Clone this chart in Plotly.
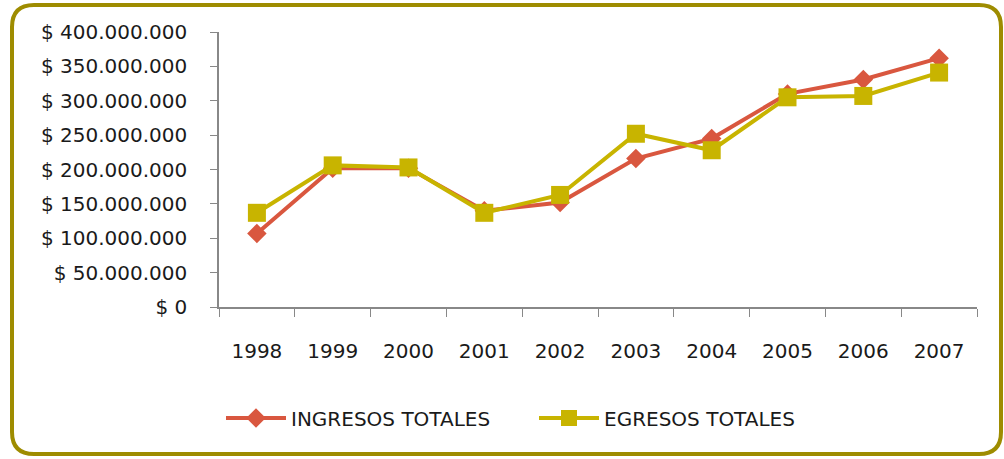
import plotly.graph_objects as go

years = ["1998", "1999", "2000", "2001", "2002", "2003", "2004", "2005", "2006", "2007"]
ingresos = [107e6, 202e6, 202e6, 140e6, 152e6, 216e6, 245e6, 310e6, 331e6, 362e6]
egresos = [137e6, 206e6, 203e6, 137e6, 163e6, 252e6, 228e6, 305e6, 307e6, 341e6]
ytick_vals = [0, 50e6, 100e6, 150e6, 200e6, 250e6, 300e6, 350e6, 400e6]
ytick_text = ["$ 0", "$ 50.000.000", "$ 100.000.000", "$ 150.000.000", "$ 200.000.000",
              "$ 250.000.000", "$ 300.000.000", "$ 350.000.000", "$ 400.000.000"]

W, H = 1004, 459
L, R, T, B = 219, 27, 32, 152
pw, ph = W - L - R, H - T - B

def px(x):
    return (x - L) / pw

def py(y):
    return (H - B - y) / ph

RED = "#D9573F"
YEL = "#C8B400"
FONT = "DejaVu Sans"
TXT = "#1a1a1a"

fig = go.Figure()
fig.add_trace(go.Scatter(x=years, y=ingresos, name="INGRESOS TOTALES", mode="lines+markers",
                         line=dict(color=RED, width=4),
                         marker=dict(symbol="diamond", size=15, color=RED)))
fig.add_trace(go.Scatter(x=years, y=egresos, name="EGRESOS TOTALES", mode="lines+markers",
                         line=dict(color=YEL, width=4),
                         marker=dict(symbol="square", size=18, color=YEL)))

# rounded border
x0, x1, y0, y1, r = 12, 1001, 5, 454, 22
path = (f"M {px(x0+r)},{py(y0)} L {px(x1-r)},{py(y0)} Q {px(x1)},{py(y0)} {px(x1)},{py(y0+r)} "
        f"L {px(x1)},{py(y1-r)} Q {px(x1)},{py(y1)} {px(x1-r)},{py(y1)} "
        f"L {px(x0+r)},{py(y1)} Q {px(x0)},{py(y1)} {px(x0)},{py(y1-r)} "
        f"L {px(x0)},{py(y0+r)} Q {px(x0)},{py(y0)} {px(x0+r)},{py(y0)} Z")
fig.add_shape(type="path", path=path, xref="paper", yref="paper",
              line=dict(color="#9E8C00", width=4), layer="below")

fig.update_layout(
    width=W, height=H,
    margin=dict(l=L, r=R, t=T, b=B, autoexpand=False),
    paper_bgcolor="white", plot_bgcolor="white",
    font=dict(family=FONT, size=20, color=TXT),
    showlegend=True,
    legend=dict(orientation="h", x=px(221), y=py(418), xanchor="left", yanchor="middle",
                font=dict(family=FONT, size=20, color=TXT),
                itemwidth=60, entrywidth=238, tracegroupgap=0),
    xaxis=dict(type="category", tickson="boundaries", ticks="outside", ticklen=8,
               tickcolor="#888888", showline=True, linecolor="#888888", linewidth=1.5,
               showgrid=False, zeroline=False, ticklabelstandoff=25,
               range=[-0.5, 9.5], tickfont=dict(size=20)),
    yaxis=dict(range=[0, 400e6], tickvals=ytick_vals, ticktext=ytick_text,
               ticks="outside", ticklen=7, tickcolor="#888888", showline=True,
               linecolor="#888888", linewidth=1.5, showgrid=False, zeroline=False,
               ticklabelstandoff=19, tickfont=dict(size=20)),
)

fig.write_html("out.html", config={"displayModeBar": False},
               post_script="document.body.style.margin='0';")
